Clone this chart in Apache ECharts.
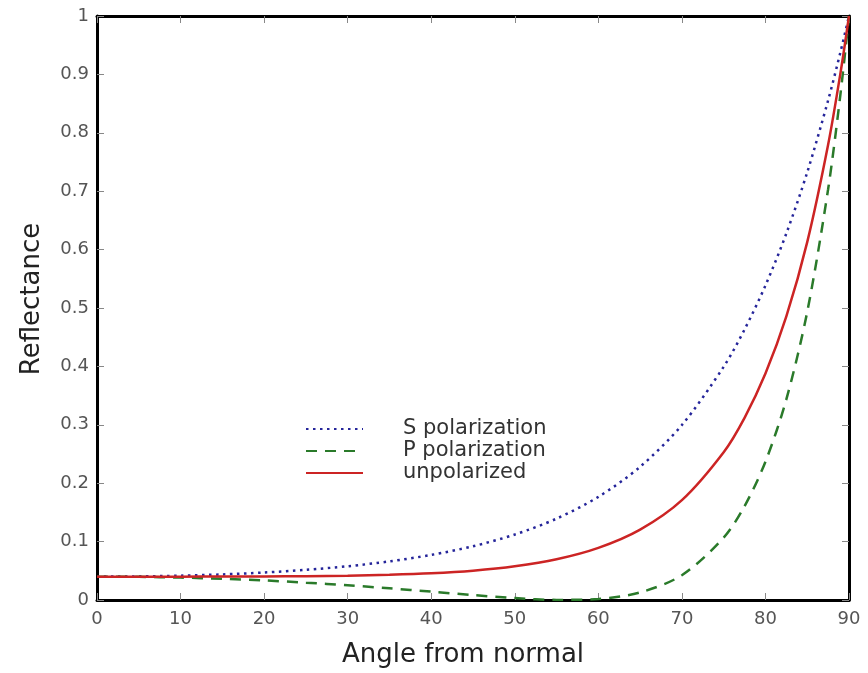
<!DOCTYPE html>
<html>
<head>
<meta charset="utf-8">
<script src="https://cdn.jsdelivr.net/npm/echarts@6/dist/echarts.min.js"></script>
<style>html,body{margin:0;padding:0;background:#fff}#c{width:868px;height:673px}</style>
</head>
<body>
<div id="c"></div>
<script>
var angles = [0,5,10,15,20,25,30,35,40,45,50,55,60,65,70,75,77.5,80,82.5,85,87.5,89,90];
var sPol = [0.040,0.0404,0.0417,0.0438,0.0471,0.0516,0.0578,0.0661,0.0772,0.0920,0.1121,0.1393,0.1766,0.2281,0.2996,0.3994,0.4632,0.5386,0.6276,0.7323,0.8555,0.9395,1.0];
var pPol = [0.040,0.0396,0.0384,0.0363,0.0335,0.0297,0.0252,0.0200,0.0143,0.0085,0.0033,0.0002,0.0018,0.0130,0.0425,0.1068,0.1607,0.2368,0.3436,0.4933,0.7034,0.8689,1.0];
var unPol = [0.040,0.0400,0.0400,0.0401,0.0403,0.0407,0.0415,0.0431,0.0457,0.0502,0.0577,0.0697,0.0892,0.1205,0.1710,0.2531,0.3120,0.3877,0.4856,0.6128,0.7795,0.9042,1.0];
var xTicks = [0,10,20,30,40,50,60,70,80,90];
var yTicks = [0,0.1,0.2,0.3,0.4,0.5,0.6,0.7,0.8,0.9,1];
var names = ['S polarization','P polarization','unpolarized'];

function pairs(v){ return angles.map(function(a,i){return [a,v[i]];}); }
var font = '"DejaVu Sans", Arial, sans-serif';
var chart = echarts.init(document.getElementById('c'));
var tickStyle = {show:true, inside:true, length:7, lineStyle:{color:'#888', width:1}};
chart.setOption({
  animation:false,
  backgroundColor:'#fff',
  grid:{left:97, right:19, top:16, bottom:72, containLabel:false},
  xAxis:[{
    type:'value', min:0, max:90, interval:10,
    name:'Angle from normal', nameLocation:'middle', nameGap:42,
    nameTextStyle:{fontFamily:font, fontSize:26, color:'#222', padding:[0,20,0,0]},
    axisLine:{show:true, onZero:false, lineStyle:{color:'#000', width:3}},
    axisTick:tickStyle, splitLine:{show:false},
    axisLabel:{fontFamily:font, fontSize:18, color:'#555', margin:10}
  },{
    type:'value', min:0, max:90, interval:10, position:'top',
    axisLine:{show:true, onZero:false, lineStyle:{color:'#000', width:3}},
    axisTick:tickStyle, axisLabel:{show:false}, splitLine:{show:false}
  }],
  yAxis:[{
    type:'value', min:0, max:1, interval:0.1,
    name:'Reflectance', nameLocation:'middle', nameGap:52,
    nameTextStyle:{fontFamily:font, fontSize:26, color:'#222', padding:[0,0,0,18]},
    axisLine:{show:true, onZero:false, lineStyle:{color:'#000', width:3}},
    axisTick:tickStyle, splitLine:{show:false},
    axisLabel:{fontFamily:font, fontSize:18, color:'#555', margin:8,
      formatter:function(v){ return (Math.round(v*10)/10).toString(); }}
  },{
    type:'value', min:0, max:1, interval:0.1, position:'right',
    axisLine:{show:true, onZero:false, lineStyle:{color:'#000', width:3}},
    axisTick:tickStyle, axisLabel:{show:false}, splitLine:{show:false}
  }],
  legend:{
    orient:'vertical', left:305, top:418, padding:0, itemWidth:57, itemHeight:14, itemGap:0,
    data:names,
    itemStyle:{opacity:0},
    textStyle:{fontFamily:font, fontSize:21, lineHeight:22, color:'#333', padding:[0,0,0,35]}
  },
  series:[
    {name:names[0], type:'line', data:pairs(sPol), smooth:0.3, showSymbol:false, symbol:'none',
      lineStyle:{color:'#25259a', width:2.5, type:[2.5,4.5]}, itemStyle:{color:'#25259a'}},
    {name:names[1], type:'line', data:pairs(pPol), smooth:0.3, showSymbol:false, symbol:'none',
      lineStyle:{color:'#2a7a2a', width:2.5, type:[11,8]}, itemStyle:{color:'#2a7a2a'}},
    {name:names[2], type:'line', data:pairs(unPol), smooth:0.3, showSymbol:false, symbol:'none',
      lineStyle:{color:'#cc2424', width:2.5}, itemStyle:{color:'#cc2424'}}
  ]
});
</script>
</body>
</html>
